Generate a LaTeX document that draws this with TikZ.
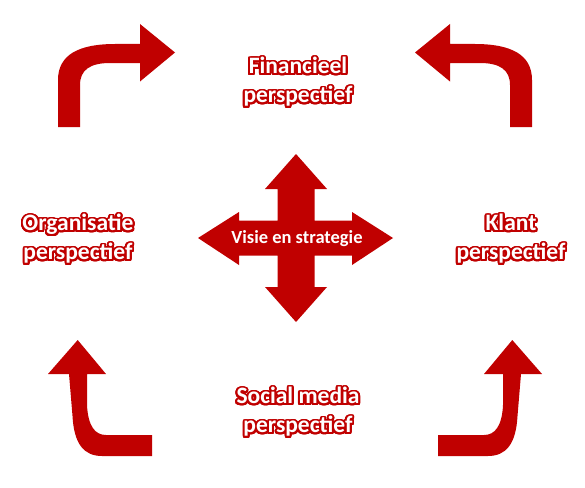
\documentclass[tikz,border=0pt]{standalone}
\usepackage{fontspec}
\setmainfont{Carlito}
\usepackage{contour}
\contourlength{1.9pt}
\contournumber{32}
\definecolor{dred}{RGB}{192,0,0}
\newcommand{\outl}[1]{\contour{dred}{\textcolor{white}{#1}}}
\begin{document}
\begin{tikzpicture}[x=1pt,y=-1pt,
  persp/.style={align=center,font=\bfseries\fontsize{23.5}{29}\selectfont,inner sep=0pt},
  arrowfill/.style={fill=dred,draw=none}]
\useasboundingbox (0,0) rectangle (585,487);
% top-left arrow
\fill[arrowfill] (58,127) -- (58,80) .. controls (58,54) and (80,44) .. (115,44) -- (140,44) -- (140,24) -- (175,52.5) -- (140,81.5) -- (140,63) -- (110,63) .. controls (90,63) and (80,70) .. (80,85) -- (80,127) -- cycle;
% top-right arrow (mirror)
\begin{scope}[xshift=590pt,xscale=-1]
\fill[arrowfill] (58,127) -- (58,80) .. controls (58,54) and (80,44) .. (115,44) -- (140,44) -- (140,24) -- (175,52.5) -- (140,81.5) -- (140,63) -- (110,63) .. controls (90,63) and (80,70) .. (80,85) -- (80,127) -- cycle;
\end{scope}
% bottom-left arrow
\fill[arrowfill] (69,374) -- (48,374) -- (77.7,340) -- (106,374) -- (87,374) -- (87,405) .. controls (88,426) and (95,435) .. (106,435) -- (152,435) -- (152,456) -- (102,456) .. controls (84,456) and (74,444) .. (72.5,416) -- cycle;
% bottom-right arrow (mirror)
\begin{scope}[xshift=590pt,xscale=-1]
\fill[arrowfill] (69,374) -- (48,374) -- (77.7,340) -- (106,374) -- (87,374) -- (87,405) .. controls (88,426) and (95,435) .. (106,435) -- (152,435) -- (152,456) -- (102,456) .. controls (84,456) and (74,444) .. (72.5,416) -- cycle;
\end{scope}
% central cross
\fill[arrowfill] (296,154) -- (327,189) -- (314.5,189) -- (314.5,220.5) -- (352,220.5) -- (352,212) -- (393,238) -- (352,265) -- (352,255.5) -- (314.5,255.5) -- (314.5,287) -- (327,287) -- (296,322) -- (265,287) -- (277.5,287) -- (277.5,255.5) -- (239,255.5) -- (239,265) -- (198,238) -- (239,212) -- (239,220.5) -- (277.5,220.5) -- (277.5,189) -- (265,189) -- cycle;
\node[text=white,font=\bfseries\fontsize{18.5}{20}\selectfont,inner sep=0pt] (vision) at (297,239) {Visie en strategie};
% labels
\node[persp] (fin) at (298,83) {\outl{Financieel}\\\outl{perspectief}};
\node[persp] (org) at (78,240) {\outl{Organisatie}\\\outl{perspectief}};
\node[persp] (klant) at (511,240) {\outl{Klant}\\\outl{perspectief}};
\node[persp] (soc) at (298,413) {\outl{Social media}\\\outl{perspectief}};
\end{tikzpicture}
\end{document}
